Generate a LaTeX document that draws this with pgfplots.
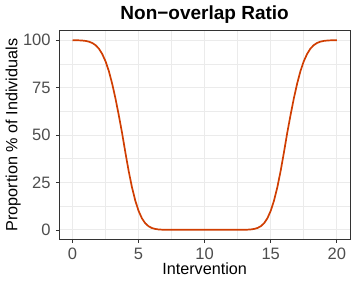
\documentclass[border=0pt]{standalone}
\usepackage{pgfplots}
\pgfplotsset{compat=1.18}
\usepackage{fontspec}
\setmainfont{Liberation Sans}
\definecolor{linecol}{RGB}{208,62,2}
\definecolor{gridcol}{RGB}{235,235,235}
\definecolor{grey20}{RGB}{51,51,51}
\definecolor{grey30}{RGB}{77,77,77}
\begin{document}
\begin{tikzpicture}
\path[use as bounding box] (-59.3pt,-45.7pt) rectangle (297.7pt,239.3pt);
\begin{axis}[
  scale only axis,
  width=290.7pt, height=208.6pt,
  at={(0,0)}, anchor=south west,
  xmin=-1, xmax=21, ymin=-5, ymax=105,
  xtick={0,5,10,15,20}, ytick={0,25,50,75,100},
  minor xtick={2.5,7.5,12.5,17.5}, minor ytick={12.5,37.5,62.5,87.5},
  xtick pos=bottom, ytick pos=left,
  grid=both,
  major grid style={gridcol, line width=0.9pt},
  minor grid style={gridcol, line width=0.5pt},
  axis line style={grey20, line width=0.6pt},
  tick align=outside, major tick length=3.5pt, minor tick length=0pt,
  tick style={grey20, line width=0.6pt},
  /pgf/number format/assume math mode=true,
  xticklabel style={font=\fontsize{16.5}{18}\selectfont, text=grey30, anchor=base, yshift=-17pt, inner sep=0pt},
  yticklabel style={font=\fontsize{16.5}{18}\selectfont, text=grey30, anchor=east, xshift=-5pt, inner sep=0pt},
  xticklabel={\pgfmathprintnumber[fixed]{\tick}},
  yticklabel={\pgfmathprintnumber[fixed]{\tick}},
  every axis x label/.style={at={(axis description cs:0.5,0)}, anchor=base, yshift=-34.7pt, font=\fontsize{16.2}{19}\selectfont, inner sep=0pt},
  every axis y label/.style={at={(axis description cs:0,0.5)}, rotate=90, anchor=base, yshift=41.8pt, font=\fontsize{16.2}{19}\selectfont, inner sep=0pt},
  every axis title/.style={at={(axis description cs:0.5,1)}, anchor=base, yshift=11.4pt, font=\bfseries\fontsize{19}{22}\selectfont, inner sep=0pt},
  title={Non\symbol{"2212}overlap Ratio},
  xlabel={Intervention},
  ylabel={Proportion \% of Individuals},
]
\addplot[linecol, line width=1.7pt, line join=round] coordinates {
(0,100) (0.25,99.96) (0.5,99.91) (0.75,99.8) (1,99.6) (1.25,99.2) (1.5,98.5) (1.75,97.34)
(2,95.5) (2.25,92.7) (2.5,88.85) (2.75,83.7) (3,77.1) (3.25,69.3) (3.5,60.5) (3.75,51.1)
(4,40.8) (4.25,31.0) (4.5,22.4) (4.75,15.4) (5,10.0) (5.25,6.1) (5.5,3.5) (5.75,1.9)
(6,0.97) (6.25,0.47) (6.5,0.21) (6.75,0.09) (7,0.035) (7.5,0) (10,0) (12.5,0)
(13,0.035) (13.25,0.09) (13.5,0.21) (13.75,0.47) (14,0.97) (14.25,1.9) (14.5,3.5) (14.75,6.1)
(15,10.0) (15.25,15.4) (15.5,22.4) (15.75,31.0) (16,40.8) (16.25,51.1) (16.5,60.5) (16.75,69.3)
(17,77.1) (17.25,83.7) (17.5,88.85) (17.75,92.7) (18,95.5) (18.25,97.34) (18.5,98.5) (18.75,99.2)
(19,99.6) (19.25,99.8) (19.5,99.91) (19.75,99.96) (20,100)
};
\end{axis}
\end{tikzpicture}
\end{document}
